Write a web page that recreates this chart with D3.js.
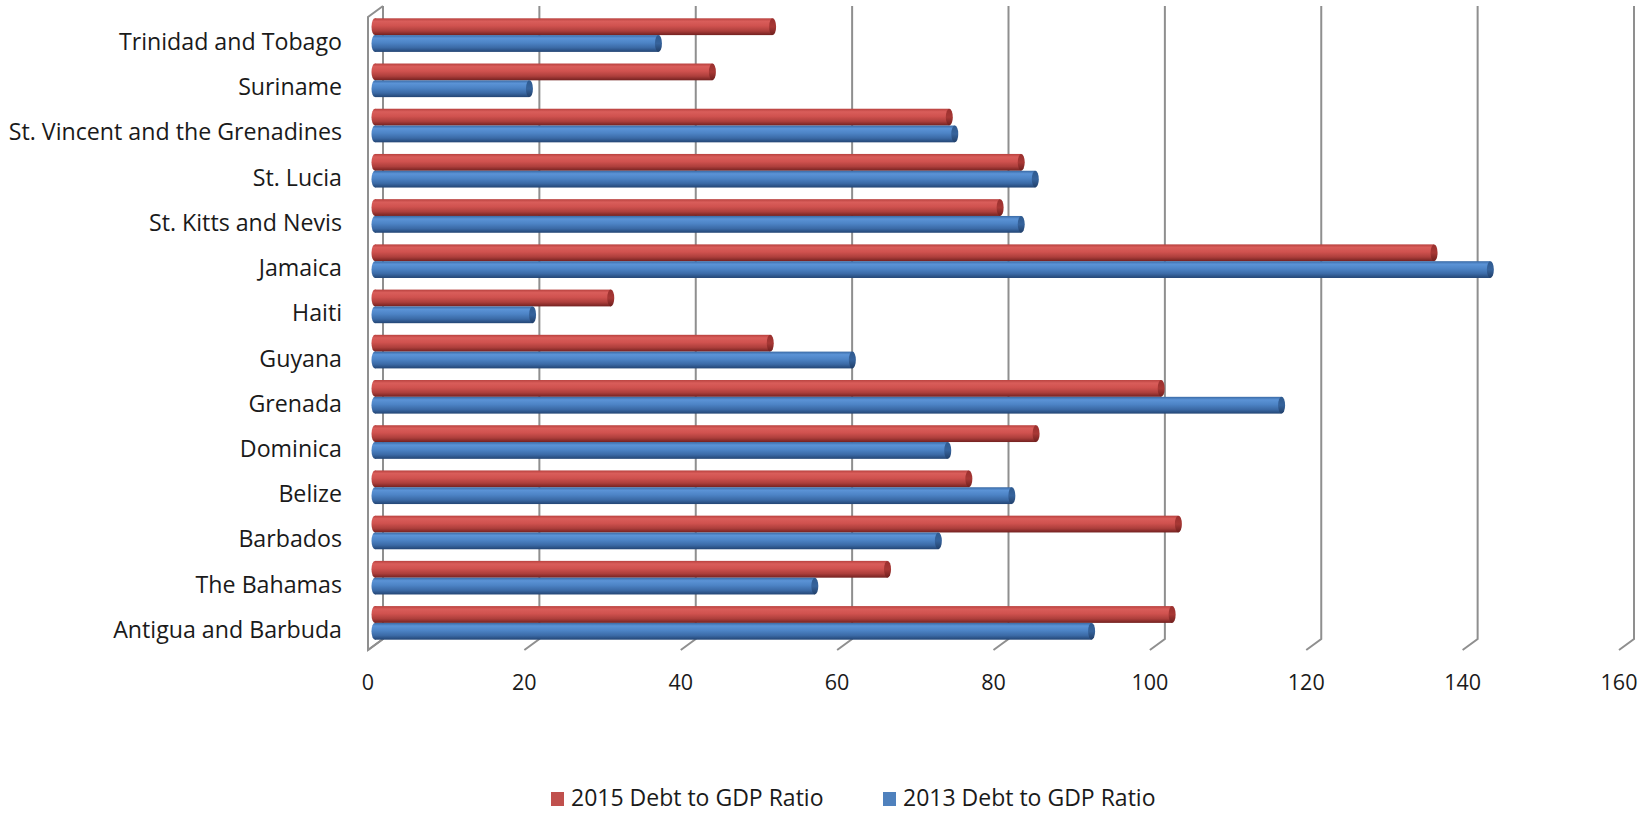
<!DOCTYPE html>
<html>
<head>
<meta charset="utf-8">
<script src="https://cdn.jsdelivr.net/npm/d3@7"></script>
<style>
  html, body { margin: 0; padding: 0; background: #fff; }
  svg { display: block; }
  text { font-family: "Open Sans", "DejaVu Sans", sans-serif; fill: #1a1a1a; }
</style>
</head>
<body>
<svg id="chart" width="1643" height="813"></svg>
<script>
// ---- data ----
const categories = [
  "Antigua and Barbuda", "The Bahamas", "Barbados", "Belize", "Dominica",
  "Grenada", "Guyana", "Haiti", "Jamaica", "St. Kitts and Nevis",
  "St. Lucia", "St. Vincent and the Grenadines", "Suriname", "Trinidad and Tobago"
];
const debt2015 = [102.4, 66.0, 103.2, 76.4, 85.0, 101.0, 51.0, 30.6, 135.9, 80.4, 83.1, 73.9, 43.6, 51.3];
const debt2013 = [92.1, 56.7, 72.5, 81.9, 73.7, 116.4, 61.5, 20.6, 143.1, 83.1, 84.9, 74.6, 20.2, 36.7];
const xTicks = [0, 20, 40, 60, 80, 100, 120, 140, 160];
const seriesNames = ["2015 Debt to GDP Ratio", "2013 Debt to GDP Ratio"];

// ---- layout ----
const svg = d3.select("#chart");
const backLeft = 383, backRight = 1634, wallTop = 6, wallBottom = 639;
const depthX = -15, depthY = 11;

const xBack = d3.scaleLinear().domain([0, 160]).range([backLeft, backRight]);
const xBar = d3.scaleLinear().domain([0, 160]).range([375, 375 + (backRight - backLeft)]);
const yBand = d3.scaleBand().domain(categories.slice().reverse()).range([wallTop, wallBottom]).padding(0);

const gridColor = "#8f8f8f";
const defs = svg.append("defs");

function cylGrad(id, stops) {
  const g = defs.append("linearGradient").attr("id", id)
    .attr("x1", 0).attr("y1", 0).attr("x2", 0).attr("y2", 1);
  stops.forEach(s => g.append("stop").attr("offset", s[0]).attr("stop-color", s[1]));
}
cylGrad("redBody", [[0, "#b8413e"], [0.18, "#d95d5a"], [0.45, "#d0524f"], [0.75, "#ad3f3c"], [1, "#732120"]]);
cylGrad("blueBody", [[0, "#3a6aa5"], [0.18, "#5b93d6"], [0.45, "#4d84c6"], [0.75, "#3b6aa6"], [1, "#234574"]]);
cylGrad("redCap", [[0, "#9a302e"], [0.5, "#a83835"], [1, "#6e1f1d"]]);
cylGrad("blueCap", [[0, "#2f5a8f"], [0.5, "#36639c"], [1, "#213f69"]]);

// ---- gridlines (back wall + floor) ----
const grid = svg.append("g").attr("stroke", gridColor).attr("stroke-width", 2).attr("fill", "none");
xTicks.forEach(t => {
  const x = xBack(t);
  grid.append("path").attr("d", `M${x},${wallTop} L${x},${wallBottom} L${x + depthX},${wallBottom + depthY}`);
});
// left wall
grid.append("path").attr("d",
  `M${backLeft},${wallTop} L${backLeft + depthX},${wallTop + depthY} L${backLeft + depthX},${wallBottom + depthY} L${backLeft},${wallBottom}`);

// ---- bars ----
const barH = 16.8, pairOffset = 6.5, capRx = 3.5;
const series = [
  { values: debt2015, body: "url(#redBody)", cap: "url(#redCap)", dy: -barH },
  { values: debt2013, body: "url(#blueBody)", cap: "url(#blueCap)", dy: 0 }
];
const bars = svg.append("g");
categories.forEach((c, i) => {
  const cy = yBand(c) + yBand.bandwidth() / 2 + pairOffset;
  series.forEach(s => {
    const y = cy + s.dy;
    const x0 = xBar(0);
    const x1 = xBar(s.values[i]) - capRx;
    const g = bars.append("g");
    g.append("ellipse").attr("cx", x0).attr("cy", y + barH / 2).attr("rx", capRx).attr("ry", barH / 2).attr("fill", s.body);
    g.append("rect").attr("x", x0).attr("y", y).attr("width", Math.max(0, x1 - x0)).attr("height", barH).attr("fill", s.body);
    g.append("ellipse").attr("cx", x1).attr("cy", y + barH / 2).attr("rx", capRx).attr("ry", barH / 2).attr("fill", s.cap);
  });
});

// ---- category labels ----
svg.append("g").selectAll("text").data(categories).join("text")
  .attr("x", 342)
  .attr("y", d => yBand(d) + yBand.bandwidth() / 2 + 21.4)
  .attr("text-anchor", "end")
  .attr("font-size", 23.2)
  .text(d => d);

// ---- value axis labels ----
svg.append("g").selectAll("text").data(xTicks).join("text")
  .attr("x", d => xBack(d) + depthX)
  .attr("y", 690)
  .attr("text-anchor", "middle")
  .attr("font-size", 21.5)
  .text(d => d);

// ---- legend ----
const legendItems = [
  { name: seriesNames[0], color: "#c0504d", x: 551 },
  { name: seriesNames[1], color: "#4f81bd", x: 883 }
];
const lg = svg.append("g");
legendItems.forEach(it => {
  lg.append("rect").attr("x", it.x).attr("y", 792).attr("width", 13).attr("height", 14).attr("fill", it.color);
  lg.append("text").attr("x", it.x + 20).attr("y", 806).attr("font-size", 23).text(it.name);
});
</script>
</body>
</html>
